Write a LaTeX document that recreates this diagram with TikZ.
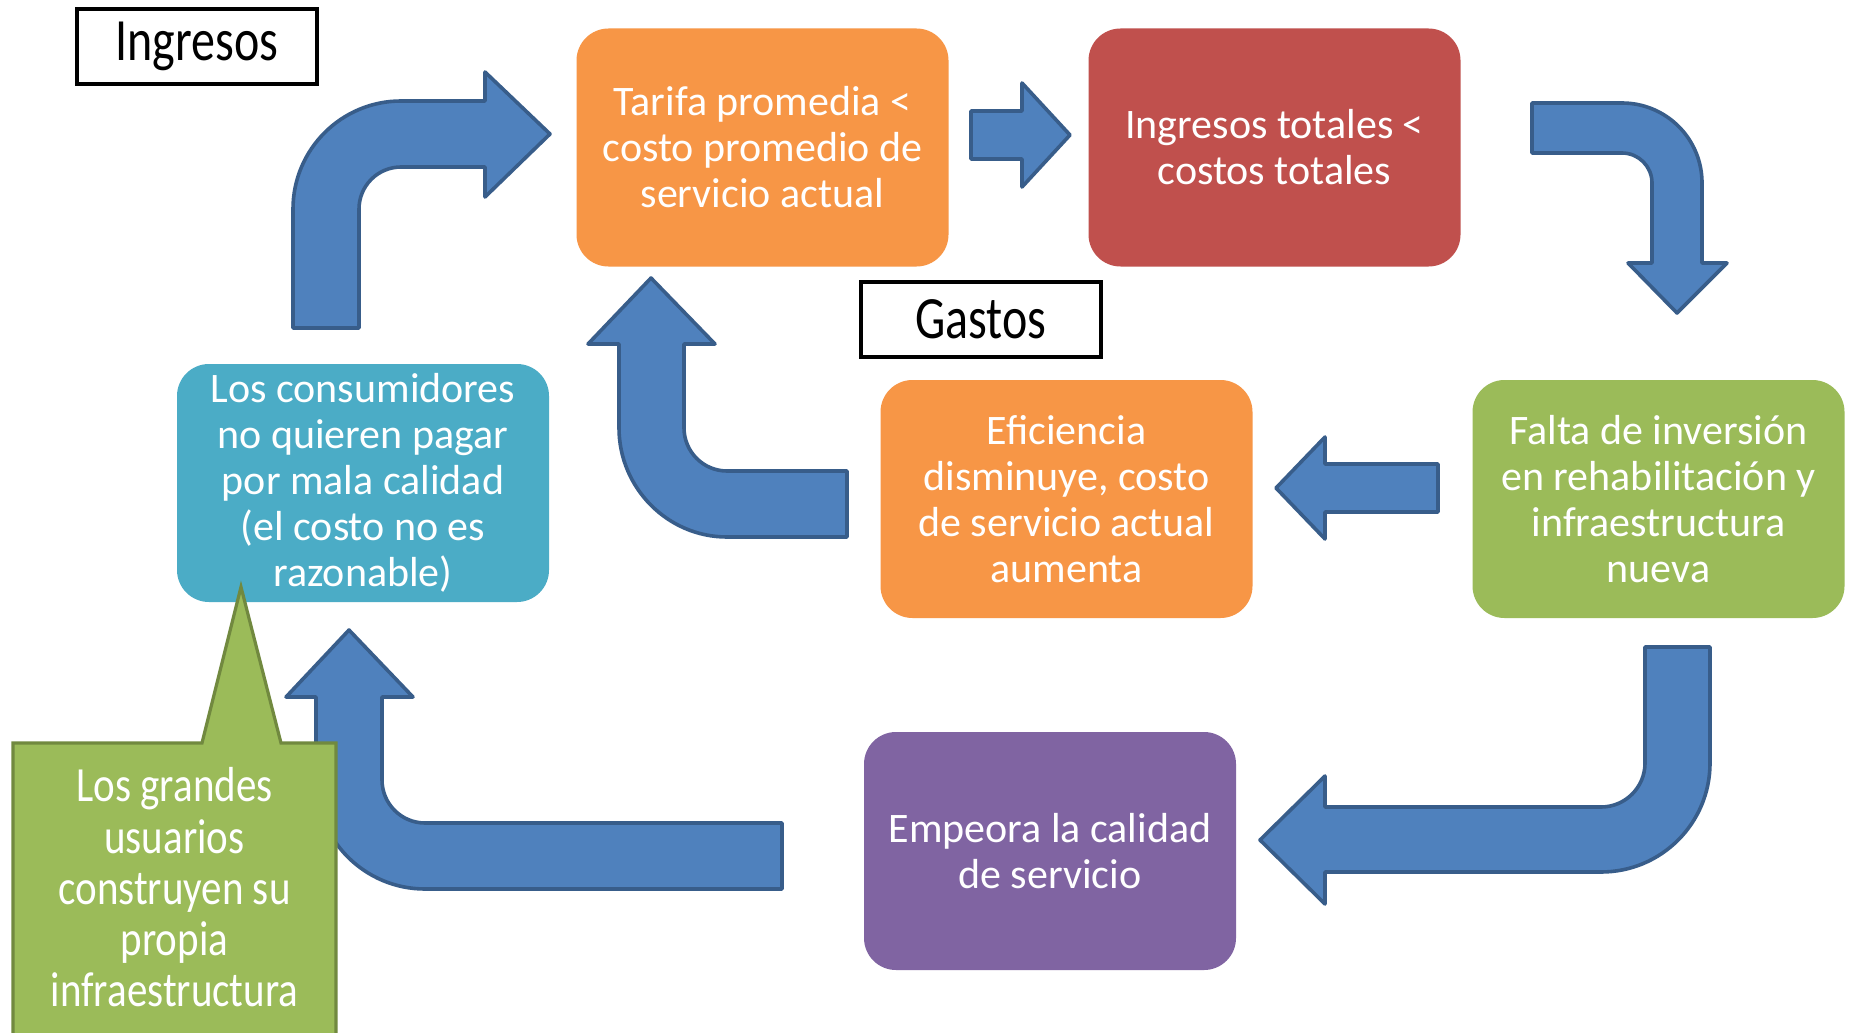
\documentclass[tikz,border=0pt]{standalone}
\usepackage{fontspec}
\setmainfont{Carlito}

\definecolor{boxorange}{HTML}{F79646}
\definecolor{boxred}{HTML}{C0504D}
\definecolor{boxteal}{HTML}{4BACC6}
\definecolor{boxgreen}{HTML}{9BBB59}
\definecolor{boxpurple}{HTML}{8064A2}
\definecolor{arrowblue}{HTML}{4F81BD}
\definecolor{arrowedge}{HTML}{385D8A}
\definecolor{calloutedge}{HTML}{71893F}

\newcommand{\tallword}[2]{\scalebox{1}[#1]{#2}}

\begin{document}
\begin{tikzpicture}[x=0.5pt,y=-0.5pt,
	stage/.style={rounded corners=16pt, minimum width=186pt, minimum height=119pt,
		inner sep=2pt, align=center, text=white, font=\fontsize{21}{23}\selectfont},
	tag/.style={draw=black, line width=2pt, fill=white, minimum width=120pt,
		minimum height=37.5pt, inner sep=0pt, font=\fontsize{24}{26}\selectfont},
	bigarrow/.style={fill=arrowblue, draw=arrowedge, line width=1.8pt, line join=round}]
			\path[use as bounding box, fill=white] (0,0) rectangle (1850,1032);

			% the cycle of boxes
			\node[stage, fill=boxorange] (tarifa) at (762.5,147.5) {Tarifa promedia <\\costo promedio de\\servicio actual};
			\node[stage, fill=boxred] (totales) at (1274.5,147.5) {Ingresos totales <\\costos totales};
			\node[stage, fill=boxgreen] (falta) at (1658.5,499) {Falta de inversión\\en rehabilitación y\\infraestructura\\nueva};
			\node[stage, fill=boxorange] (eficiencia) at (1066.5,499) {Eficiencia\\disminuye, costo\\de servicio actual\\aumenta};
			\node[stage, fill=boxpurple] (empeora) at (1050,851) {Empeora la calidad\\de servicio};
			\node[stage, fill=boxteal] (consumidores) at (363,483) {Los consumidores\\no quieren pagar\\por mala calidad\\(el costo no es\\razonable)};

			% block arrows
			\draw[bigarrow] (293,328) -- (293,209) .. controls (293,149.4) and (341.4,101) .. (401,101)
				-- (485,101) -- (485,72) -- (550,134) -- (485,197) -- (485,167) -- (401,167)
				.. controls (377.8,167) and (359,185.8) .. (359,209) -- (359,328) -- cycle;
			\draw[bigarrow] (971,111) -- (1022,111) -- (1022,83) -- (1070,135) -- (1022,187)
				-- (1022,159) -- (971,159) -- cycle;
			\draw[bigarrow] (1532,103) -- (1622,103) .. controls (1666.2,103) and (1702,138.8) .. (1702,183)
				-- (1702,263) -- (1727,263) -- (1677,313) -- (1628,263) -- (1652,263) -- (1652,183)
				.. controls (1652,166.4) and (1638.6,153) .. (1622,153) -- (1532,153) -- cycle;
			\draw[bigarrow] (1438,464) -- (1325,464) -- (1325,437) -- (1276,488) -- (1325,539)
				-- (1325,512) -- (1438,512) -- cycle;
			\draw[bigarrow] (1645,647) -- (1710,647) -- (1710,763) .. controls (1710,823.2) and (1661.2,872) .. (1601,872)
				-- (1325,872) -- (1325,904) -- (1260,840) -- (1325,776) -- (1325,807) -- (1601,807)
				.. controls (1625.3,807) and (1645,787.3) .. (1645,763) -- cycle;
			\draw[bigarrow] (847,537) -- (727,537) .. controls (667.4,537) and (619,487.6) .. (619,428)
				-- (619,344) -- (588,344) -- (651,278) -- (715,344) -- (684,344) -- (684,428)
				.. controls (684,451.7) and (703.3,471) .. (727,471) -- (847,471) -- cycle;
			\draw[bigarrow] (782,889) -- (425,889) .. controls (364.8,889) and (316,840.2) .. (316,780)
				-- (316,697) -- (286,697) -- (349,630) -- (413,697) -- (382,697) -- (382,780)
				.. controls (382,803.7) and (401.3,823) .. (425,823) -- (782,823) -- cycle;

			% labels
			\node[tag] (ingresos) at (197,46.5) {\tallword{1.25}{Ingresos}};
			\node[tag] (gastos) at (981,319) {\tallword{1.25}{Gastos}};

			% callout
			\draw[fill=boxgreen, draw=calloutedge, line width=1.6pt] (13,743) -- (202,743) -- (241,587)
				-- (281,743) -- (336,743) -- (336,1045) -- (13,1045) -- cycle;
			\node[text=white, inner sep=0pt] (grandes) at (174.5,894) {\tallword{1.2}{\fontsize{20.5}{21.3}\selectfont
				\begin{tabular}{@{}c@{}}Los grandes\\usuarios\\construyen su\\propia\\infraestructura\end{tabular}}};
\end{tikzpicture}
\end{document}
